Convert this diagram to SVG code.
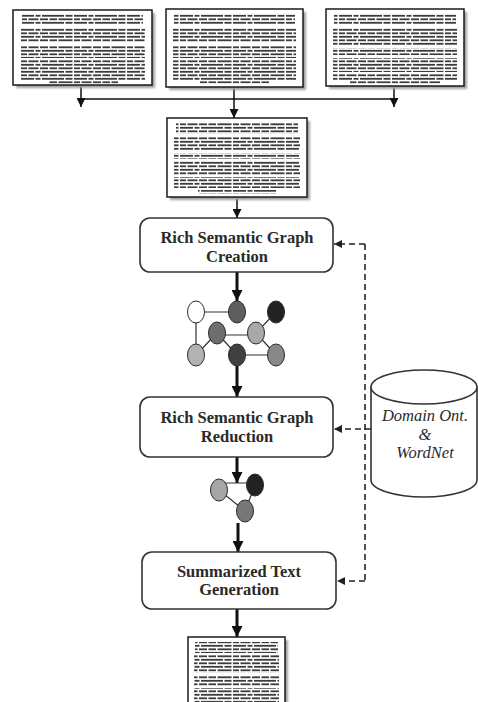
<svg xmlns="http://www.w3.org/2000/svg" width="478" height="702" viewBox="0 0 478 702">
  <style>
    .page { fill: #ffffff; stroke: #1a1a1a; stroke-width: 1.5; }
    .shadow { fill: #a0a0a0; filter: url(#soft); }
    .lines { fill: url(#txt); filter: url(#ink); }
    .box { fill: #ffffff; stroke: #333333; stroke-width: 1.6; }
    .label { font-family: "Liberation Serif", "Times New Roman", serif; font-weight: bold; font-size: 16.5px; fill: #2a2a2a; text-anchor: middle; }
    .db { font-family: "Liberation Serif", "Times New Roman", serif; font-style: italic; font-size: 16.5px; fill: #2a2a2a; text-anchor: middle; }
    .flow { fill: none; stroke: #111111; stroke-width: 1.5; }
    .thick { fill: none; stroke: #111111; stroke-width: 3; }
    .dash { fill: none; stroke: #222222; stroke-width: 1.6; stroke-dasharray: 6 4; }
    .edge { stroke: #333333; stroke-width: 1.2; }
    .vtx { stroke: #2a2a2a; stroke-width: 1; }
  </style>
  <defs>
    <filter id="soft" x="-10%" y="-10%" width="120%" height="120%">
      <feGaussianBlur stdDeviation="1"/>
    </filter>
    <filter id="ink" x="-5%" y="-20%" width="110%" height="140%">
      <feGaussianBlur stdDeviation="0.45"/>
    </filter>
    <!-- printed text rows of the document thumbnails (two rows with different word breaks) -->
    <pattern id="txt" patternUnits="userSpaceOnUse" width="53" height="7">
      <rect x="0" y="0.9" width="11" height="1.8" fill="#3a3a3a"/>
      <rect x="12.5" y="0.9" width="7" height="1.8" fill="#3a3a3a"/>
      <rect x="21" y="0.9" width="13" height="1.8" fill="#3a3a3a"/>
      <rect x="35.5" y="0.9" width="5" height="1.8" fill="#3a3a3a"/>
      <rect x="42" y="0.9" width="11" height="1.8" fill="#3a3a3a"/>
      <rect x="0" y="4.4" width="4" height="1.8" fill="#3a3a3a"/>
      <rect x="5.5" y="4.4" width="14" height="1.8" fill="#3a3a3a"/>
      <rect x="21" y="4.4" width="6" height="1.8" fill="#3a3a3a"/>
      <rect x="28.5" y="4.4" width="10" height="1.8" fill="#3a3a3a"/>
      <rect x="40" y="4.4" width="8" height="1.8" fill="#3a3a3a"/>
      <rect x="49.5" y="4.4" width="3.5" height="1.8" fill="#3a3a3a"/>
    </pattern>
    <marker id="ah" viewBox="0 0 10 10" refX="10" refY="5" markerWidth="9" markerHeight="9" markerUnits="userSpaceOnUse" orient="auto">
      <path d="M0,0 L10,5 L0,10 Z" fill="#111111"/>
    </marker>
    <marker id="ahT" viewBox="0 0 10 10" refX="10" refY="5" markerWidth="11" markerHeight="11" markerUnits="userSpaceOnUse" orient="auto">
      <path d="M0,0 L10,5 L0,10 Z" fill="#111111"/>
    </marker>
    <marker id="ahD" viewBox="0 0 10 10" refX="10" refY="5" markerWidth="8" markerHeight="8" markerUnits="userSpaceOnUse" orient="auto">
      <path d="M0,0 L10,5 L0,10 Z" fill="#222222"/>
    </marker>
  </defs>

  <rect x="0" y="0" width="478" height="702" fill="#ffffff"/>

  <!-- connectors -->
  <g id="connectors">
    <path class="flow" d="M81,85 V107" marker-end="url(#ah)"/>
    <path class="flow" d="M394,86 V107" marker-end="url(#ah)"/>
    <path class="flow" d="M81,99 H394"/>
    <path class="flow" d="M234,87 V118" marker-end="url(#ah)"/>
    <path class="flow" d="M237,197 V218" stroke-width="2" marker-end="url(#ah)"/>
    <path class="thick" d="M237,272 V301" marker-end="url(#ahT)"/>
    <path class="thick" d="M237,366 V397" marker-end="url(#ahT)"/>
    <path class="thick" d="M237,457 V483" marker-end="url(#ahT)"/>
    <path class="thick" d="M238,523 V552" marker-end="url(#ahT)"/>
    <path class="thick" d="M237,609 V637" marker-end="url(#ahT)"/>
    <!-- knowledge feed from the ontology store -->
    <path class="dash" d="M365,244 V581"/>
    <path class="dash" d="M365,244 H334" marker-end="url(#ahD)"/>
    <path class="dash" d="M371,429 H334" marker-end="url(#ahD)"/>
    <path class="dash" d="M365,581 H337" marker-end="url(#ahD)"/>
  </g>

  <!-- input documents -->
  <g id="doc1">
    <rect class="shadow" x="16" y="13" width="139" height="75"/>
    <rect class="page" x="13" y="10" width="139" height="75"/>
    <rect class="lines" x="22" y="14" width="121" height="11"/>
    <rect class="lines" x="20" y="28" width="125" height="14"/>
    <rect class="lines" x="20" y="45" width="125" height="7"/>
    <rect class="lines" x="20" y="52" width="125" height="6"/>
    <rect class="lines" x="20" y="59" width="125" height="21"/>
    <rect class="lines" x="48" y="80" width="70" height="3.5"/>
  </g>
  <g id="doc2">
    <rect class="shadow" x="169" y="12" width="137" height="78"/>
    <rect class="page" x="166" y="9" width="137" height="78"/>
    <rect class="lines" x="174" y="14" width="121" height="11"/>
    <rect class="lines" x="173" y="28" width="123" height="14"/>
    <rect class="lines" x="173" y="45" width="123" height="7"/>
    <rect class="lines" x="173" y="52" width="123" height="6"/>
    <rect class="lines" x="173" y="59" width="123" height="21"/>
    <rect class="lines" x="200" y="80" width="70" height="3.5"/>
  </g>
  <g id="doc3">
    <rect class="shadow" x="329" y="12" width="138" height="77"/>
    <rect class="page" x="326" y="9" width="138" height="77"/>
    <rect class="lines" x="334" y="14" width="122" height="11"/>
    <rect class="lines" x="333" y="28" width="124" height="17"/>
    <rect class="lines" x="333" y="48" width="124" height="7"/>
    <rect class="lines" x="333" y="58" width="124" height="14"/>
    <rect class="lines" x="333" y="73" width="124" height="7"/>
    <rect class="lines" x="350" y="80" width="90" height="3.5"/>
  </g>

  <!-- merged document -->
  <g id="doc4">
    <rect class="shadow" x="170" y="121" width="140" height="79"/>
    <rect class="page" x="167" y="118" width="140" height="79"/>
    <rect class="lines" x="176" y="123" width="122" height="11"/>
    <rect class="lines" x="174" y="136" width="126" height="14"/>
    <rect class="lines" x="174" y="153" width="126" height="6"/>
    <rect class="lines" x="174" y="161" width="126" height="14"/>
    <rect class="lines" x="174" y="177" width="126" height="11"/>
    <rect class="lines" x="198" y="190" width="78" height="3.5"/>
  </g>

  <!-- processing stages -->
  <g id="creation">
    <rect class="box" x="140" y="218" width="193" height="54" rx="10"/>
    <text class="label" x="237" y="243">Rich Semantic Graph</text>
    <text class="label" x="237" y="262">Creation</text>
  </g>

  <g id="graph-full">
    <line class="edge" x1="196" y1="312" x2="237" y2="312"/>
    <line class="edge" x1="196" y1="312" x2="196" y2="355"/>
    <line class="edge" x1="217" y1="333" x2="196" y2="355"/>
    <line class="edge" x1="217" y1="335" x2="256" y2="335"/>
    <line class="edge" x1="217" y1="333" x2="237" y2="355"/>
    <line class="edge" x1="256" y1="333" x2="276" y2="312"/>
    <line class="edge" x1="256" y1="333" x2="276" y2="355"/>
    <line class="edge" x1="237" y1="355" x2="276" y2="355"/>
    <ellipse class="vtx" cx="196" cy="312" rx="8.5" ry="11" fill="#ffffff"/>
    <ellipse class="vtx" cx="237" cy="312" rx="8.5" ry="11" fill="#5e5e5e"/>
    <ellipse class="vtx" cx="276" cy="312" rx="8.5" ry="11" fill="#222222"/>
    <ellipse class="vtx" cx="217" cy="333" rx="8.5" ry="11" fill="#6e6e6e"/>
    <ellipse class="vtx" cx="256" cy="333" rx="8.5" ry="11" fill="#a8a8a8"/>
    <ellipse class="vtx" cx="196" cy="355" rx="8.5" ry="11" fill="#b2b2b2"/>
    <ellipse class="vtx" cx="237" cy="355" rx="8.5" ry="11" fill="#404040"/>
    <ellipse class="vtx" cx="276" cy="355" rx="8.5" ry="11" fill="#888888"/>
  </g>

  <g id="reduction">
    <rect class="box" x="140" y="397" width="193" height="60" rx="10"/>
    <text class="label" x="237" y="423">Rich Semantic Graph</text>
    <text class="label" x="237" y="442">Reduction</text>
  </g>

  <g id="graph-reduced">
    <line class="edge" x1="219" y1="483" x2="255" y2="483"/>
    <line class="edge" x1="219" y1="490" x2="245" y2="511"/>
    <line class="edge" x1="255" y1="485" x2="245" y2="511"/>
    <ellipse class="vtx" cx="219" cy="490" rx="8.5" ry="11" fill="#a6a6a6"/>
    <ellipse class="vtx" cx="255" cy="485" rx="8.5" ry="11" fill="#222222"/>
    <ellipse class="vtx" cx="245" cy="511" rx="8.5" ry="11" fill="#777777"/>
  </g>

  <g id="generation">
    <rect class="box" x="142" y="552" width="194" height="57" rx="10"/>
    <text class="label" x="239" y="577">Summarized Text</text>
    <text class="label" x="239" y="595">Generation</text>
  </g>

  <!-- knowledge store -->
  <g id="ontology">
    <path class="box" d="M371,387 V480 A53,17 0 0 0 477,480 V387"/>
    <ellipse class="box" cx="424" cy="387" rx="53" ry="17"/>
    <text class="db" x="425" y="421">Domain Ont.</text>
    <text class="db" x="425" y="440">&amp;</text>
    <text class="db" x="425" y="458">WordNet</text>
  </g>

  <!-- summary output -->
  <g id="summary">
    <rect class="shadow" x="191" y="640" width="97" height="66"/>
    <rect class="page" x="188" y="637" width="97" height="66"/>
    <rect class="lines" x="195" y="642" width="83" height="11"/>
    <rect class="lines" x="194" y="655" width="85" height="18"/>
    <rect class="lines" x="194" y="675" width="85" height="11"/>
    <rect class="lines" x="194" y="688" width="85" height="14"/>
  </g>
</svg>
